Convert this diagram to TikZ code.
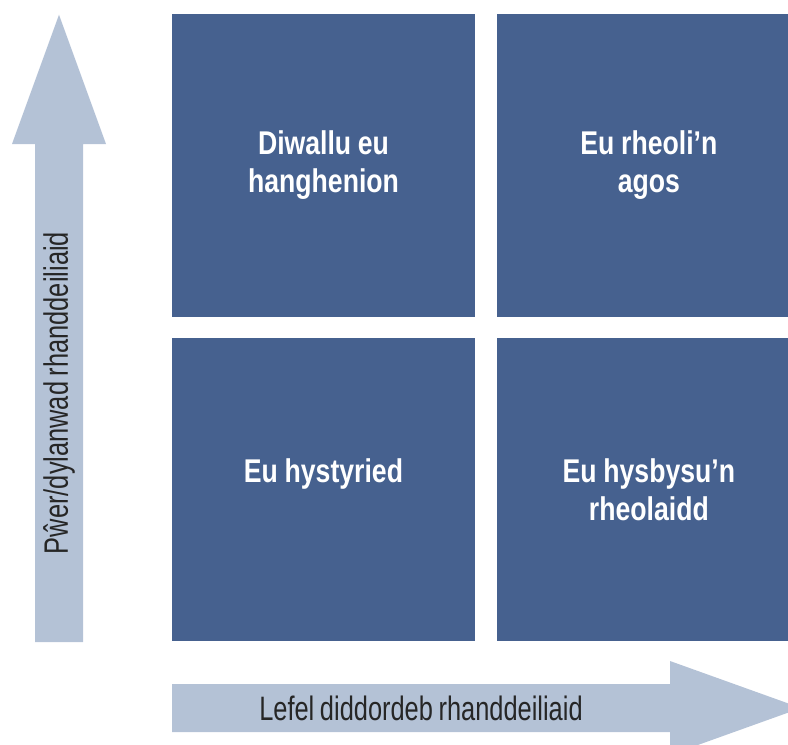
\documentclass[tikz,border=0pt]{standalone}
\usepackage{fontspec}
\newfontfamily\axisfont{Liberation Sans}[FakeStretch=0.75,WordSpace=0.8]
\newfontfamily\quadfont{Liberation Sans Bold}[FakeStretch=0.81,WordSpace=0.9]
\usetikzlibrary{positioning}
\definecolor{quadblue}{RGB}{70,97,143}
\definecolor{arrowblue}{RGB}{180,194,214}

\begin{document}
\begin{tikzpicture}[x=1bp,y=-1bp,
		quad/.style = {rectangle, fill=quadblue, minimum size=303bp, inner sep=0pt,
			text=white, text width=280bp, align=flush center,
			font=\quadfont\fontsize{33}{38}\selectfont},
		axislabel/.style = {text=black!85, inner sep=0pt,
			font=\axisfont\fontsize{34}{40}\selectfont}]

		% Frame
		\clip (0,0) rectangle (788,745);

		% Arrows
		\fill[arrowblue] (35,642) -- (35,144) -- (12,144) -- (59,14.7)
			-- (106,144) -- (83,144) -- (83,642) -- cycle;
		\fill[arrowblue] (172,684) -- (670,684) -- (670,661) -- (801,708)
			-- (670,755) -- (670,732) -- (172,732) -- cycle;

		% Quadrants
		\node[quad] (keep) at (323.5,165.5) {Diwallu eu\\hanghenion};
		\node[quad,right=22bp of keep] (manage) {Eu rheoli’n\\agos};
		\node[quad,below=21bp of keep] (monitor) {Eu hystyried\\~};
		\node[quad,right=22bp of monitor] (inform) {Eu hysbysu’n\\rheolaidd};

		% Axis labels
		\node[axislabel,rotate=90] (power) at (59,393) {Pŵer/dylanwad rhanddeiliaid};
		\node[axislabel] (interest) at (421,708) {Lefel diddordeb rhanddeiliaid};
\end{tikzpicture}
\end{document}
